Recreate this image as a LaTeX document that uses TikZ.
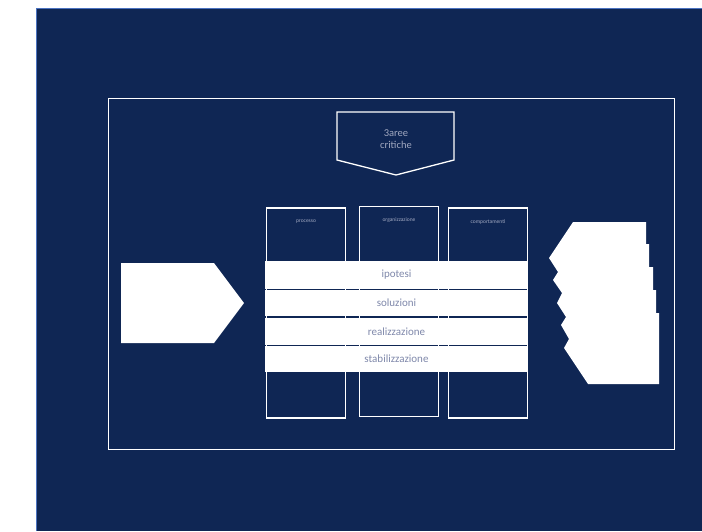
\documentclass[tikz,border=0pt]{standalone}
\usepackage{fontspec}
\setmainfont{Carlito}
\definecolor{navy}{HTML}{0F2654}
\definecolor{edgeblue}{HTML}{4A72C0}
\definecolor{bandtext}{HTML}{7F88AA}
\definecolor{coltext}{HTML}{A3AAC2}
\definecolor{toptext}{HTML}{A0A7BF}
\begin{document}
\begin{tikzpicture}[x=1pt,y=-1pt,
  colbox/.style={draw=white, line width=1.2pt, fill=navy, minimum width=79pt, minimum height=210pt, inner sep=0pt},
  coltxt/.style={text=coltext, font=\fontsize{5.5}{6}\selectfont, inner sep=0pt},
  band/.style={fill=white, minimum width=263pt, inner sep=0pt, text=bandtext, font=\fontsize{11}{12}\selectfont},
  toptxt/.style={text=toptext, align=center, font=\fontsize{10.5}{12}\selectfont, inner sep=0pt}]
\useasboundingbox (0,0) rectangle (702,531);
\fill[white] (0,0) rectangle (702,531);
\fill[navy] (36,8) rectangle (702,531);
\draw[edgeblue, line width=0.8pt] (36,531) -- (36,8) -- (702,8);
% outer frame
\draw[white, line width=1pt] (108,98) rectangle (674,449);
% top arrow
\draw[white, fill=navy, line width=1.3pt, line join=miter] (337,112) -- (454,112) -- (454,160) -- (396,175) -- (337,160) -- cycle;
\node[toptxt] (ta) at (396,139) {3aree\\critiche};
% columns
\node[colbox] (proc) at (306,313) {};
\node[colbox] (org) at (399,311.5) {};
\node[colbox] (comp) at (488,313) {};
\node[coltxt] (procl) at (306,222) {processo};
\node[coltxt] (orgl) at (399,220) {organizzazione};
\node[coltxt] (compl) at (488,222) {comportamenti};
% bands
\node[band, minimum height=27.4pt] (ip) at (396.5,274.8) {ipotesi};
\node[band, minimum height=26.6pt] (so) at (396.5,303.1) {soluzioni};
\node[band, minimum height=27.4pt] (re) at (396.5,331.5) {realizzazione};
\node[band, minimum height=25.2pt] (st) at (396.5,359) {stabilizzazione};
% left arrow
\fill[white] (121,263) -- (214,263) -- (244,303) -- (214,343) -- (121,343) -- cycle;
% right stacked shape
\fill[white] (573,222) -- (646,222) -- (646,244) -- (649,244) -- (649,267) -- (653,267) -- (653,290) -- (656,290) -- (656,313) -- (659,313) -- (659,384) -- (588,384) -- (564,348) -- (569,339) -- (561,325) -- (566,317) -- (557,303) -- (562,293) -- (553,280) -- (558,272) -- (549,258) -- cycle;
\end{tikzpicture}
\end{document}
